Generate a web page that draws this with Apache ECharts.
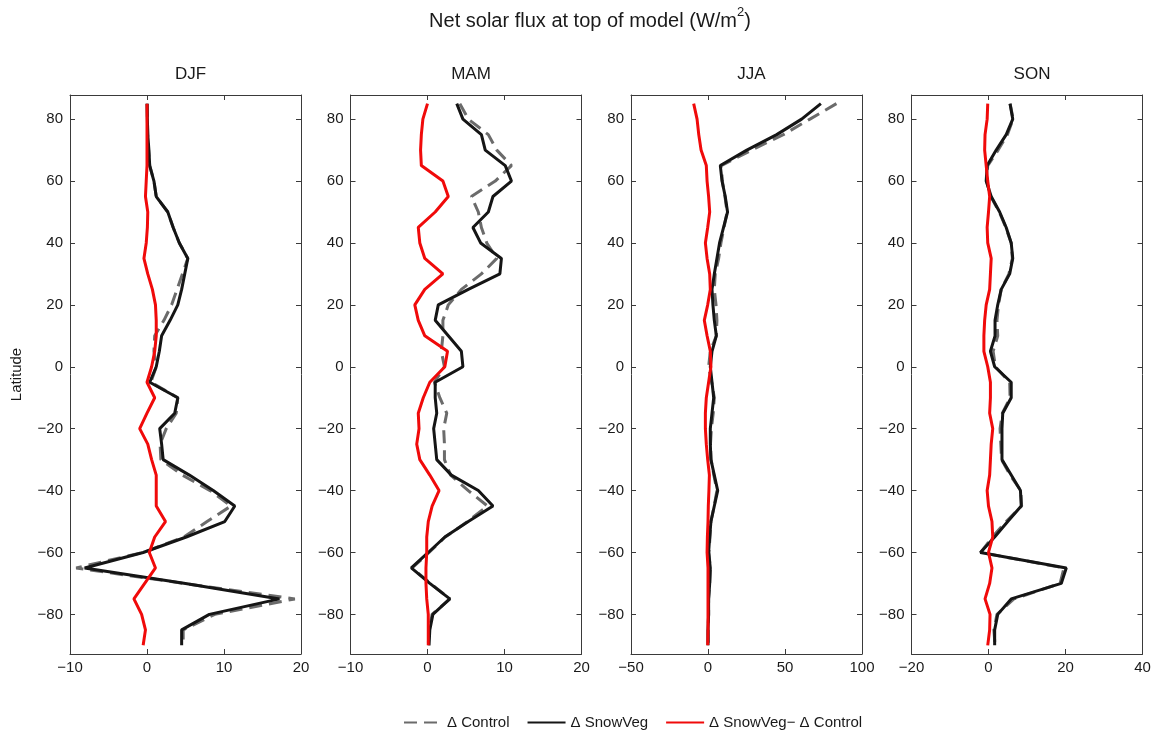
<!DOCTYPE html>
<html>
<head>
<meta charset="utf-8">
<script src="https://cdn.jsdelivr.net/npm/echarts@6/dist/echarts.min.js"></script>
<style>
  html, body { margin: 0; padding: 0; background: #ffffff; }
  #chart { width: 1161px; height: 736px; }
</style>
</head>
<body>
<div id="chart"></div>
<script>
// Zonal-mean change in net solar flux at top of model, by season (W/m^2)
const latitudes = [85, 80, 75, 70, 65, 60, 55, 50, 45, 40, 35, 30, 25, 20, 15, 10, 5, 0,
  -5, -10, -15, -20, -25, -30, -35, -40, -45, -50, -55, -60, -65, -70, -75, -80, -85, -90];
const seasons = ['DJF', 'MAM', 'JJA', 'SON'];
const latTicks = [-80, -60, -40, -20, 0, 20, 40, 60, 80];
const fluxTicksDJF = [-10, 0, 10, 20];
const fluxTicksMAM = [-10, 0, 10, 20];
const fluxTicksJJA = [-50, 0, 50, 100];
const fluxTicksSON = [-20, 0, 20, 40];
const seriesNames = ['\u0394 Control', '\u0394 SnowVeg', '\u0394 SnowVeg\u2212 \u0394 Control'];

const djfControl = [0.05, 0.05, 0.1, 0.2, 0.35, 0.9, 1.2, 2.7, 3.4, 4.2, 5.3, 4.6, 3.9, 3.2, 2.2, 1.0, 0.9, 1.2,
  0.5, 4.0, 3.8, 2.5, 1.7, 1.8, 4.6, 8.2, 10.9, 7.8, 4.8, -0.5, -9.2, 4.8, 19.2, 8.8, 4.7, 4.7];
const djfSnowVeg = [0, 0.05, 0.1, 0.25, 0.35, 0.9, 1.2, 2.7, 3.4, 4.2, 5.3, 4.9, 4.5, 4.0, 3.0, 1.9, 1.6, 1.2,
  0.35, 4.0, 3.6, 1.65, 1.9, 2.1, 5.5, 8.6, 11.4, 10.1, 5.1, -0.5, -8.1, 5.0, 17.2, 8.1, 4.5, 4.5];
const djfDiff = [0, 0, 0, 0, 0, -0.1, -0.2, 0.1, 0.05, -0.1, -0.4, 0.1, 0.7, 1.1, 1.2, 1.2, 1.0, 0.6,
  0, 1.0, 0, -0.95, 0.1, 0.6, 1.2, 1.2, 1.2, 2.4, 1.0, 0.3, 1.1, -0.3, -1.7, -0.7, -0.2, -0.5];

const mamControl = [4.2, 5.3, 7.9, 9.0, 10.9, 8.8, 5.7, 6.6, 7.0, 7.7, 9.0, 7.0, 4.4, 2.7, 2.0, 2.0, 1.8, 2.2,
  0.9, 1.6, 2.5, 2.1, 2.2, 2.2, 3.0, 5.3, 7.8, 5.2, 2.3, 0.2, -2.0, 0.4, 2.9, 0.6, 0.2, 0.1];
const mamSnowVeg = [3.8, 4.6, 7.0, 7.5, 10.1, 10.9, 8.5, 7.9, 5.9, 6.9, 9.6, 9.4, 5.3, 1.4, 1.0, 2.7, 4.4, 4.6,
  1.0, 1.0, 1.2, 0.8, 1.0, 1.2, 3.1, 6.6, 8.5, 5.3, 2.25, 0.1, -2.1, 0.3, 2.9, 0.7, 0.3, 0.2];
const mamDiff = [0, -0.6, -0.8, -0.9, -0.8, 2.0, 2.7, 1.0, -1.2, -1.0, -0.35, 2.0, -0.35, -1.65, -1.2, -0.35, 2.6, 2.25,
  0.3, -0.55, -1.2, -1.1, -1.4, -1.0, 0.3, 1.5, 0.6, 0.1, -0.1, -0.1, -0.2, -0.2, -0.1, 0.1, 0.1, 0.1];

const jjaControl = [83.4, 66.2, 48.9, 28.4, 8.6, 9.3, 11.0, 12.4, 10.4, 8.4, 6.9, 4.7, 4.1, 5.2, 5.8, 5.4, 1.5, 0.4,
  2.4, 4.1, 3.4, 2.2, 1.6, 2.0, 3.8, 5.8, 4.0, 1.9, 1.3, 0.6, 1.5, 1.1, 0.4, 0.4, 0.1, 0.2];
const jjaSnowVeg = [73.3, 60.8, 44.6, 25.2, 8.0, 9.1, 11.2, 12.7, 10.1, 7.5, 5.8, 4.1, 2.6, 3.2, 4.1, 5.4, 2.6, 1.5,
  2.6, 3.7, 2.6, 1.5, 1.5, 1.9, 4.1, 6.3, 4.1, 1.9, 1.1, 0.4, 1.5, 1.1, 0.4, 0.4, 0, 0];
const jjaDiff = [-9.3, -7.1, -6.0, -4.5, -1.1, -0.6, 0.4, 1.1, -0.2, -1.7, -0.6, 1.1, 1.5, -0.2, -2.4, -0.6, 1.5, 1.9,
  0.4, -1.1, -1.7, -1.7, -1.1, -0.2, 0.9, 0.6, 0.2, 0, -0.4, -0.6, 0, 0, 0, 0, 0, -0.2];

const sonControl = [5.6, 6.4, 4.9, 2.5, -0.2, -0.5, 0.6, 2.8, 4.5, 5.9, 6.2, 5.3, 3.3, 2.6, 2.2, 2.4, 1.2, 1.8,
  5.5, 5.6, 3.6, 3.0, 3.2, 3.4, 5.6, 8.4, 8.6, 4.6, 1.0, -2.0, 19.6, 18.6, 6.6, 2.2, 1.4, 1.7];
const sonSnowVeg = [5.6, 6.3, 4.6, 2.0, -0.35, -0.6, 0.7, 2.9, 4.6, 5.9, 6.3, 5.5, 3.3, 2.4, 1.7, 1.7, 0.5, 1.6,
  5.9, 5.9, 3.7, 3.5, 3.5, 3.5, 5.9, 8.3, 8.5, 5.0, 1.6, -2.1, 20.2, 18.9, 5.9, 2.4, 1.6, 1.6];
const sonDiff = [-0.2, -0.35, -0.9, -1.0, -0.6, -0.2, 0.3, 0, -0.35, -0.2, 0.7, 0.5, 0.3, -0.6, -1.0, -1.2, -1.2, -0.2,
  0.5, 0.5, 0.3, 1.1, 0.7, 0.5, 0.3, -0.35, 0, 0.9, 1.1, 0, 0.9, 0.3, -0.9, 0.4, 0.3, -0.2];

// ---- assembly ----
const panels = [
  { ticks: fluxTicksDJF, lines: [djfControl, djfSnowVeg, djfDiff] },
  { ticks: fluxTicksMAM, lines: [mamControl, mamSnowVeg, mamDiff] },
  { ticks: fluxTicksJJA, lines: [jjaControl, jjaSnowVeg, jjaDiff] },
  { ticks: fluxTicksSON, lines: [sonControl, sonSnowVeg, sonDiff] }
];

const FONT = 'Liberation Sans, Arial, Helvetica, sans-serif';
const PANEL_LEFT = [70, 350.5, 631, 911.5];
const PANEL_W = 231;
const PANEL_TOP = 95;
const PANEL_H = 559;
const LAT_MIN = -92.8, LAT_MAX = 87.8;
const BOX = { color: '#3a3a3a', width: 1 };
const minusFmt = v => String(v).replace('-', '\u2212');

const lineStyles = [
  { color: '#6b6b6b', width: 3, type: [13, 7] },
  { color: '#151515', width: 3, type: 'solid' },
  { color: '#f00a0a', width: 3, type: 'solid' }
];

const grid = [], xAxis = [], yAxis = [], series = [], title = [];

title.push({
  text: '{a|Net solar flux at top of model (W/m}{s|2}{a|)}',
  left: 585, top: -2, textAlign: 'center',
  textStyle: {
    fontWeight: 'normal',
    rich: {
      a: { fontFamily: FONT, fontSize: 20, fontWeight: 'normal', color: '#1a1a1a', lineHeight: 28, verticalAlign: 'bottom' },
      s: { fontFamily: FONT, fontSize: 13, fontWeight: 'normal', color: '#1a1a1a', lineHeight: 28, verticalAlign: 'top', padding: [3, 0, 0, 0] }
    }
  }
});

panels.forEach((p, i) => {
  const gi = i;
  grid.push({ left: PANEL_LEFT[i], top: PANEL_TOP, width: PANEL_W, height: PANEL_H, containLabel: false });
  const xmin = p.ticks[0], xmax = p.ticks[p.ticks.length - 1];

  title.push({
    text: seasons[i],
    left: PANEL_LEFT[i] + PANEL_W / 2, top: 61, textAlign: 'center',
    textStyle: { fontFamily: FONT, fontSize: 17, fontWeight: 'normal', color: '#1a1a1a' }
  });

  // bottom axis with labels
  xAxis.push({
    gridIndex: gi, type: 'value', min: xmin, max: xmax, position: 'bottom',
    axisLine: { show: true, onZero: false, lineStyle: BOX },
    axisTick: { show: true, inside: true, length: 5, lineStyle: BOX, customValues: p.ticks },
    axisLabel: { show: true, customValues: p.ticks, formatter: minusFmt, fontFamily: FONT, fontSize: 15, color: '#1a1a1a', margin: 6 },
    splitLine: { show: false }
  });
  // top mirror axis
  xAxis.push({
    gridIndex: gi, type: 'value', min: xmin, max: xmax, position: 'top',
    axisLine: { show: true, onZero: false, lineStyle: BOX },
    axisTick: { show: true, inside: true, length: 5, lineStyle: BOX, customValues: p.ticks },
    axisLabel: { show: false },
    splitLine: { show: false }
  });
  // left axis with labels
  yAxis.push({
    gridIndex: gi, type: 'value', min: LAT_MIN, max: LAT_MAX, position: 'left',
    name: i === 0 ? 'Latitude' : '', nameLocation: 'middle', nameGap: 46, nameRotate: 90,
    nameTextStyle: { fontFamily: FONT, fontSize: 15, color: '#1a1a1a' },
    axisLine: { show: true, onZero: false, lineStyle: BOX },
    axisTick: { show: true, inside: true, length: 5, lineStyle: BOX, customValues: latTicks },
    axisLabel: { show: true, customValues: latTicks, formatter: minusFmt, fontFamily: FONT, fontSize: 15, color: '#1a1a1a', margin: 7 },
    splitLine: { show: false }
  });
  // right mirror axis
  yAxis.push({
    gridIndex: gi, type: 'value', min: LAT_MIN, max: LAT_MAX, position: 'right',
    axisLine: { show: true, onZero: false, lineStyle: BOX },
    axisTick: { show: true, inside: true, length: 5, lineStyle: BOX, customValues: latTicks },
    axisLabel: { show: false },
    splitLine: { show: false }
  });

  p.lines.forEach((vals, k) => {
    series.push({
      name: seriesNames[k],
      type: 'line',
      xAxisIndex: 2 * i,
      yAxisIndex: 2 * i,
      data: vals.map((v, j) => [v, latitudes[j]]),
      symbol: 'none',
      showSymbol: false,
      lineStyle: lineStyles[k],
      itemStyle: { color: lineStyles[k].color },
      z: 2 + k,
      silent: true,
      animation: false
    });
  });
});

const chart = echarts.init(document.getElementById('chart'), null, { renderer: 'canvas' });
chart.setOption({
  backgroundColor: '#ffffff',
  animation: false,
  title,
  grid,
  xAxis,
  yAxis,
  series,
  legend: {
    data: seriesNames,
    left: 398, top: 710,
    itemWidth: 38, itemHeight: 14, itemGap: 17,
    itemStyle: { opacity: 0, borderWidth: 0 },
    textStyle: { fontFamily: FONT, fontSize: 15, color: '#1a1a1a' },
    selectedMode: false
  }
});
</script>
</body>
</html>
